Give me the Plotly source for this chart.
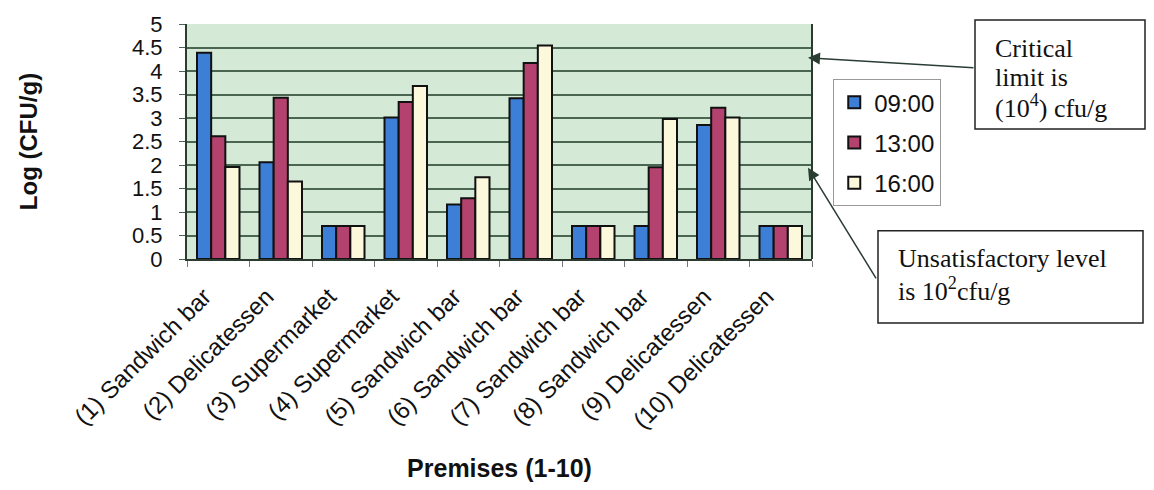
import plotly.graph_objects as go

premises = ["(1) Sandwich bar", "(2) Delicatessen", "(3) Supermarket", "(4) Supermarket",
            "(5) Sandwich bar", "(6) Sandwich bar", "(7) Sandwich bar", "(8) Sandwich bar",
            "(9) Delicatessen", "(10) Delicatessen"]
t0900 = [4.39, 2.06, 0.70, 3.01, 1.16, 3.42, 0.70, 0.70, 2.85, 0.70]
t1300 = [2.61, 3.43, 0.70, 3.34, 1.29, 4.17, 0.70, 1.95, 3.22, 0.70]
t1600 = [1.96, 1.65, 0.70, 3.68, 1.74, 4.54, 0.70, 2.98, 3.01, 0.70]
series_names = ["09:00", "13:00", "16:00"]
series_colors = ["#3d7fd6", "#b3436e", "#fbf8dc"]

critical_lines = ["Critical", "limit is", "(10<sup>4</sup>) cfu/g"]
unsatisfactory_lines = ["Unsatisfactory level", "is 10<sup>2</sup>cfu/g"]

SANS = "Liberation Sans, Arial, sans-serif"
SERIF = "Liberation Serif, Times New Roman, serif"

fig = go.Figure()
for name, vals, col in zip(series_names, [t0900, t1300, t1600], series_colors):
    fig.add_trace(go.Bar(
        x=premises, y=vals, name=name, legendgroup=name,
        marker=dict(color=col, line=dict(color="#111111", width=2)),
    ))

fig.update_layout(
    width=1154, height=490,
    margin=dict(l=187, r=342, t=17, b=231),
    paper_bgcolor="white",
    plot_bgcolor="#d5eAd6",
    barmode="group", bargap=0.32, bargroupgap=0.0,
    font=dict(family=SANS, color="#111111"),
    showlegend=True,
    legend=dict(
        x=1.034, y=0.765, xanchor="left", yanchor="top",
        font=dict(family=SANS, size=24, color="#111111"),
        bgcolor="white", bordercolor="#999999", borderwidth=1,
        itemsizing="constant", tracegroupgap=6,
    ),
)

fig.update_yaxes(
    range=[0, 5], dtick=0.5,
    showgrid=True, gridcolor="#4a6652", gridwidth=1.5,
    showline=True, linecolor="#2c3a30", linewidth=2,
    ticks="outside", ticklen=6, tickcolor="#4a6652", ticklabelstandoff=12,
    tickfont=dict(family=SANS, size=22, color="#111111"),
    title=dict(text="<b>Log (CFU/g)</b>", font=dict(family=SANS, size=24), standoff=88),
    zeroline=False,
)
fig.update_xaxes(
    showline=True, linecolor="#2c3a30", linewidth=2,
    ticks="outside", tickson="boundaries", ticklen=6, tickcolor="#777777",
    tickangle=-45, ticklabelstandoff=12, ticklabelshift=-14,
    tickfont=dict(family=SANS, size=24, color="#111111"),
    title=dict(text="<b>Premises (1-10)</b>", font=dict(family=SANS, size=25), standoff=27),
)

# right-hand frame line of the plot area
fig.add_shape(type="line", xref="paper", yref="paper", x0=1, x1=1, y0=0, y1=1,
              line=dict(color="#2c3a30", width=2))

# note boxes
fig.add_shape(type="rect", xref="paper", yref="paper",
              x0=1.2608, x1=1.5328, y0=0.5537, y1=1.0165,
              line=dict(color="#222222", width=1.5), fillcolor="white")
fig.add_shape(type="rect", xref="paper", yref="paper",
              x0=1.1056, x1=1.5296, y0=-0.2727, y1=0.1198,
              line=dict(color="#222222", width=1.5), fillcolor="white")

for line, ypos in zip(critical_lines, [0.8967, 0.7727, 0.6488]):
    fig.add_annotation(xref="paper", yref="paper", x=1.2896, y=ypos,
                       xanchor="left", yanchor="middle", text=line, showarrow=False,
                       font=dict(family=SERIF, size=26, color="#111111"))
for line, ypos in zip(unsatisfactory_lines, [0.0041, -0.1281]):
    fig.add_annotation(xref="paper", yref="paper", x=1.1344, y=ypos,
                       xanchor="left", yanchor="middle", text=line, showarrow=False,
                       font=dict(family=SERIF, size=26, color="#111111"))

# pointer arrows from the boxes to the plot edge
fig.add_annotation(
    xref="paper", yref="y", x=0.9936, y=4.28, ax=167, ay=10,
    showarrow=True, arrowhead=2, arrowsize=1.6, arrowwidth=1.5, arrowcolor="#2a3d33", text="",
)
fig.add_annotation(
    xref="paper", yref="y", x=0.9936, y=1.94, ax=69, ay=112,
    showarrow=True, arrowhead=2, arrowsize=1.6, arrowwidth=1.5, arrowcolor="#2a3d33", text="",
)

fig.write_html("out.html")
